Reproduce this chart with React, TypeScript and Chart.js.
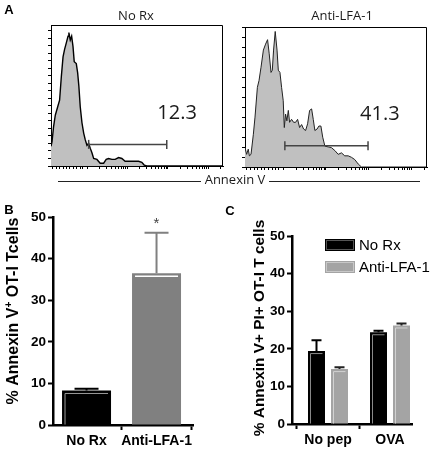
import React, { useEffect, useRef } from "react";
import { Chart, registerables } from "chart.js";
Chart.register(...registerables);

// ---------------- data ----------------
// Panel A: flow histograms (x = fraction of Annexin V axis, y = counts)
const histTitles = ["No Rx", "Anti-LFA-1"];
const histAxisTitle = "Annexin V";
const noRxHistX = [0, 0.6, 1.5, 2.5, 3.9, 5.0, 6.0, 7.0, 7.9, 8.9, 9.9, 10.4, 11.2, 12.0, 12.8, 13.5, 14.7, 15.5, 16.2, 17.0, 18.0, 19.0, 19.9, 20.9, 21.9, 22.8, 23.8, 24.8, 26.7, 28.6, 30.6, 32.1, 33.5, 35.4, 37.3, 39.3, 41.2, 43.1, 45.1, 48.0, 50.9, 52.8, 54.2, 55.7, 100];
const noRxHistY = [21, 26, 42, 54, 63, 70, 95, 116, 124, 131, 138, 142, 134, 138, 127, 111, 109, 99, 85, 63, 46, 35, 28, 22, 24, 19, 14, 8, 7, 3, 3, 7, 8, 7, 7, 9, 8, 5, 5, 5, 5, 4, 1, 0, 0];
const antiHistX = [0, 0.9, 1.8, 2.4, 3.3, 4.6, 5.5, 6.8, 7.7, 8.8, 10.1, 11.3, 12.4, 13.3, 14.3, 15.0, 15.7, 16.6, 17.6, 18.3, 19.2, 20.1, 21.0, 21.6, 22.3, 23.0, 23.8, 24.5, 25.6, 26.7, 27.8, 28.9, 30.0, 31.1, 32.2, 33.3, 34.4, 35.5, 36.6, 37.5, 38.4, 39.6, 40.6, 41.7, 42.7, 43.9, 45.7, 47.5, 49.4, 51.2, 53.0, 54.8, 56.7, 58.5, 60.3, 62.2, 64.0, 100];
const antiHistY = [26, 17, 24, 15, 17, 44, 67, 107, 116, 134, 157, 165, 171, 152, 127, 130, 157, 182, 157, 130, 127, 107, 89, 53, 71, 62, 76, 60, 64, 60, 60, 64, 53, 57, 51, 49, 58, 76, 78, 64, 49, 51, 55, 55, 40, 28, 27, 26, 22, 17, 19, 15, 15, 13, 10, 4, 0, 0];
const noRxGate = [21.9, 67.3];
const antiGate = [21.9, 67.6];
const noRxGateLevel = 23;
const antiGateLevel = 28.4;
const gatePercents = ["12.3", "41.3"];
const histDecadeStarts = [21, 44.5, 68, 91.5];
const histLinearTicks = [1, 3, 5, 7, 9, 10.5, 13, 15, 17, 18.5];

// Panel B
const bCategories = ["No Rx", "Anti-LFA-1"];
const bMeans = [8.3, 36.5];
const bErrors = [0.4, 9.7];
const bColors = ["#000000", "#808080"];
const bSignificance = ["", "*"];
const bTicks = [0, 10, 20, 30, 40, 50];

// Panel C
const cCategories = ["No pep", "OVA"];
const cSeries = ["No Rx", "Anti-LFA-1"];
const cNoRx = [19.4, 24.4];
const cNoRxErr = [2.9, 0.4];
const cAnti = [14.6, 26.2];
const cAntiErr = [0.5, 0.5];
const cColors = ["#000000", "#a4a4a4"];
const cTicks = [0, 10, 20, 30, 40, 50];

// ---------------- helpers ----------------
const SANS = '"Liberation Sans", Arial, sans-serif';
const MYR = '"Open Sans", "Liberation Sans", sans-serif';

type TextItem = { text: string; x: number; y: number; font: string; color?: string; align?: CanvasTextAlign; rotate?: number };

function textPlugin(items: TextItem[], lines: number[][] = []) {
  return {
    id: "texts",
    afterDraw(chart: any) {
      const ctx = chart.ctx as CanvasRenderingContext2D;
      lines.forEach(([x1, y1, x2, y2, w]) => {
        ctx.save();
        ctx.strokeStyle = "#222";
        ctx.lineWidth = w || 1;
        ctx.beginPath();
        ctx.moveTo(x1, y1);
        ctx.lineTo(x2, y2);
        ctx.stroke();
        ctx.restore();
      });
      items.forEach((it) => {
        ctx.save();
        ctx.font = it.font;
        ctx.fillStyle = it.color || "#000";
        ctx.textAlign = it.align || "center";
        ctx.textBaseline = "middle";
        if (it.rotate) {
          ctx.translate(it.x, it.y);
          ctx.rotate(it.rotate);
          ctx.fillText(it.text, 0, 0);
        } else ctx.fillText(it.text, it.x, it.y);
        ctx.restore();
      });
    },
  };
}

const framePlugin = {
  id: "frame",
  afterDraw(chart: any) {
    const { left, top, right, bottom } = chart.chartArea;
    const ctx = chart.ctx as CanvasRenderingContext2D;
    ctx.save();
    ctx.strokeStyle = "#000";
    ctx.lineWidth = 1;
    ctx.beginPath();
    ctx.moveTo(Math.round(left) + 0.5, Math.round(top) + 0.5);
    ctx.lineTo(Math.round(right) - 0.5, Math.round(top) + 0.5);
    ctx.lineTo(Math.round(right) - 0.5, Math.round(bottom) + 0.5);
    ctx.stroke();
    ctx.restore();
  },
};

function histXTicks() {
  const out = [...histLinearTicks];
  histDecadeStarts.forEach((d) => {
    for (let k = 1; k <= 9; k++) {
      const v = d + 23.5 * Math.log10(k);
      if (v <= 100) out.push(v);
    }
  });
  return out.map((v) => ({ value: v }));
}

function histConfig(p: {
  xs: number[]; ys: number[]; yMax: number; yStep: number; gate: number[]; gateY: number;
  pct: string; pctAt: number[]; yW: number; padRight: number; padTop: number; xH: number;
  lineWidth: number; lineColor: string; texts: TextItem[]; lines?: number[][];
}): any {
  const yTicks: { value: number }[] = [];
  for (let v = 0; v <= p.yMax + 0.001; v += p.yStep) yTicks.push({ value: v });
  const pctPlugin = {
    id: "pct",
    afterDraw(chart: any) {
      const ctx = chart.ctx as CanvasRenderingContext2D;
      const x = chart.scales.x.getPixelForValue(p.pctAt[0]);
      const y = chart.scales.y.getPixelForValue(p.pctAt[1]);
      ctx.save();
      ctx.font = `20px ${MYR}`;
      ctx.fillStyle = "#1a1a1a";
      ctx.textAlign = "center";
      ctx.textBaseline = "middle";
      ctx.fillText(p.pct, x, y);
      ctx.restore();
    },
  };
  return {
    type: "line",
    data: {
      datasets: [
        {
          data: p.gate.map((x) => ({ x, y: p.gateY })),
          borderColor: "#444",
          borderWidth: 1.5,
          pointStyle: "line",
          rotation: 90,
          pointRadius: 4.5,
          pointBorderWidth: 1.5,
          pointBorderColor: "#444",
          fill: false,
        },
        {
          data: p.xs.map((x, i) => ({ x, y: p.ys[i] })),
          borderColor: p.lineColor,
          borderWidth: p.lineWidth,
          backgroundColor: "#c0c0c0",
          fill: "origin",
          pointRadius: 0,
          tension: 0,
        },
      ],
    },
    options: {
      responsive: false,
      animation: false,
      events: [],
      layout: { padding: { left: 0, top: p.padTop, right: p.padRight, bottom: 0 } },
      plugins: { legend: { display: false }, tooltip: { enabled: false } },
      scales: {
        x: {
          type: "linear",
          min: 0,
          max: 100,
          afterBuildTicks: (s: any) => { s.ticks = histXTicks(); },
          afterFit: (s: any) => { s.height = p.xH; },
          ticks: { display: false },
          grid: { display: true, drawOnChartArea: false, drawTicks: true, tickLength: 3, color: "#000", tickColor: "#000", lineWidth: 1 },
          border: { display: true, color: "#000", width: 1 },
        },
        y: {
          type: "linear",
          min: 0,
          max: p.yMax,
          afterBuildTicks: (s: any) => { s.ticks = yTicks; },
          afterFit: (s: any) => { s.width = p.yW; },
          ticks: { display: false },
          grid: { display: true, drawOnChartArea: false, drawTicks: true, tickLength: 3, color: "#000", tickColor: "#000", lineWidth: 1 },
          border: { display: true, color: "#000", width: 1 },
        },
      },
    },
    plugins: [framePlugin, pctPlugin, textPlugin(p.texts, p.lines || [])],
  };
}

// bar extras: inner highlight lines, error bars, significance marks
function barExtras(capW: number) {
  return {
    id: "barExtras",
    afterDatasetsDraw(chart: any) {
      const ctx = chart.ctx as CanvasRenderingContext2D;
      const yScale = chart.scales.y;
      chart.data.datasets.forEach((ds: any, di: number) => {
        const meta = chart.getDatasetMeta(di);
        meta.data.forEach((el: any, i: number) => {
          const left = el.x - el.width / 2;
          const right = el.x + el.width / 2;
          const top = el.y;
          const bottom = el.base;
          const il = Array.isArray(ds.innerLines) ? ds.innerLines[i] : ds.innerLines;
          if (il) {
            ctx.save();
            ctx.strokeStyle = il.color;
            ctx.lineWidth = il.width || 1;
            ctx.beginPath();
            if (il.sides.includes("l")) {
              ctx.moveTo(left + il.inset, bottom);
              ctx.lineTo(left + il.inset, top + il.inset);
            } else {
              ctx.moveTo(left + il.inset, top + il.inset);
            }
            ctx.lineTo(right - il.inset, top + il.inset);
            ctx.stroke();
            ctx.restore();
          }
          const err = ds.errors ? ds.errors[i] : 0;
          const v = ds.data[i].y;
          const ey = yScale.getPixelForValue(v + err);
          const col = Array.isArray(ds.errorColors) ? ds.errorColors[i] : ds.errorColors;
          ctx.save();
          ctx.strokeStyle = col;
          ctx.lineWidth = 2;
          ctx.beginPath();
          ctx.moveTo(el.x, top);
          ctx.lineTo(el.x, ey);
          ctx.moveTo(el.x - capW / 2, ey);
          ctx.lineTo(el.x + capW / 2, ey);
          ctx.stroke();
          ctx.restore();
          if (ds.significance && ds.significance[i]) {
            ctx.save();
            ctx.font = `15px ${SANS}`;
            ctx.fillStyle = "#444";
            ctx.textAlign = "center";
            ctx.textBaseline = "middle";
            ctx.fillText(ds.significance[i], el.x, ey - 9);
            ctx.restore();
          }
        });
      });
    },
  };
}

function axisCommon(fixed: (s: any) => void) {
  return {
    afterFit: fixed,
    grid: { display: true, drawOnChartArea: false, drawTicks: true, tickLength: 5, tickWidth: 2, tickColor: "#000", color: "#000" },
    border: { display: true, color: "#000", width: 2.5 },
  };
}

function richTitle(x: number, y: number, parts: { text: string; font: string; dy: number }[]) {
  return {
    id: "richTitle",
    afterDraw(chart: any) {
      const ctx = chart.ctx as CanvasRenderingContext2D;
      ctx.save();
      ctx.translate(x, y);
      ctx.rotate(-Math.PI / 2);
      ctx.fillStyle = "#000";
      ctx.textBaseline = "middle";
      ctx.textAlign = "left";
      let total = 0;
      parts.forEach((pt) => { ctx.font = pt.font; total += ctx.measureText(pt.text).width; });
      let cx = -total / 2;
      parts.forEach((pt) => {
        ctx.font = pt.font;
        ctx.fillText(pt.text, cx, pt.dy);
        cx += ctx.measureText(pt.text).width;
      });
      ctx.restore();
    },
  };
}

function configA1(): any {
  return histConfig({
    xs: noRxHistX, ys: noRxHistY, yMax: 150, yStep: 8, gate: noRxGate, gateY: noRxGateLevel,
    pct: gatePercents[0], pctAt: [73.3, 56.4], yW: 51, padRight: 210, padTop: 25, xH: 34,
    lineWidth: 1.4, lineColor: "#000",
    texts: [
      { text: "A", x: 9, y: 10, font: `bold 13px ${SANS}` },
      { text: histTitles[0], x: 136, y: 16, font: `13px ${MYR}`, color: "#1a1a1a" },
      { text: histAxisTitle, x: 235, y: 180, font: `13px ${MYR}`, color: "#1a1a1a" },
    ],
    lines: [[58, 181.5, 201, 181.5, 1], [269, 181.5, 420, 181.5, 1]],
  });
}

function configA2(): any {
  return histConfig({
    xs: antiHistX, ys: antiHistY, yMax: 188, yStep: 40 / 3, gate: antiGate, gateY: antiGateLevel,
    pct: gatePercents[1], pctAt: [74.1, 71.2], yW: 10, padRight: 6, padTop: 27, xH: 33,
    lineWidth: 1, lineColor: "#222",
    texts: [{ text: histTitles[1], x: 107, y: 16, font: `13px ${MYR}`, color: "#1a1a1a" }],
  });
}

function configB(): any {
  return {
    type: "bar",
    data: {
      datasets: [
        {
          data: bCategories.map((_, i) => ({ x: i, y: bMeans[i] })),
          backgroundColor: bColors,
          borderWidth: 0,
          barPercentage: 0.7,
          categoryPercentage: 1,
          errors: bErrors,
          errorColors: bColors,
          significance: bSignificance,
          innerLines: [
            { color: "#9a9a9a", sides: "lt", inset: 3, width: 1 },
            { color: "#ffffff", sides: "t", inset: 3, width: 1.5 },
          ],
        },
      ],
    },
    options: {
      responsive: false,
      animation: false,
      events: [],
      layout: { padding: { left: 0, top: 22, right: 23, bottom: 0 } },
      plugins: { legend: { display: false }, tooltip: { enabled: false } },
      scales: {
        x: {
          type: "linear",
          min: -0.479,
          max: 1.521,
          offset: false,
          afterBuildTicks: (s: any) => { s.ticks = bCategories.map((_, i) => ({ value: i })); },
          ticks: {
            callback: (v: any) => bCategories[v as number] ?? "",
            font: { family: SANS, size: 14, weight: "bold" },
            color: "#000",
            padding: 3,
            autoSkip: false,
            maxRotation: 0,
          },
          ...axisCommon((s: any) => { s.height = 35; }),
        },
        y: {
          type: "linear",
          min: 0,
          max: 50,
          afterBuildTicks: (s: any) => { s.ticks = bTicks.map((v) => ({ value: v })); },
          ticks: { font: { family: SANS, size: 13.5, weight: "bold" }, color: "#000", padding: 2 },
          ...axisCommon((s: any) => { s.width = 53; }),
        },
      },
    },
    plugins: [
      barExtras(24),
      richTitle(14, 116, [
        { text: "% Annexin V", font: `bold 16px ${SANS}`, dy: 0 },
        { text: "+", font: `bold 10px ${SANS}`, dy: -5 },
        { text: " OT-I Tcells", font: `bold 16px ${SANS}`, dy: 0 },
      ]),
      textPlugin([{ text: "B", x: 9, y: 15, font: `bold 13px ${SANS}` }]),
    ],
  };
}

function configC(): any {
  const legendPlugin = {
    id: "cLegend",
    afterDraw(chart: any) {
      const ctx = chart.ctx as CanvasRenderingContext2D;
      chart.data.datasets.forEach((ds: any, i: number) => {
        const bx = 109, by = 44 + i * 22, bw = 30, bh = 12;
        ctx.save();
        ctx.fillStyle = ds.backgroundColor;
        ctx.fillRect(bx, by, bw, bh);
        ctx.strokeStyle = i === 0 ? "#555" : "#c8c8c8";
        ctx.lineWidth = 1;
        ctx.strokeRect(bx + 1.5, by + 1.5, bw - 3, bh - 3);
        ctx.font = `15px ${SANS}`;
        ctx.fillStyle = "#000";
        ctx.textAlign = "left";
        ctx.textBaseline = "middle";
        ctx.fillText(ds.label, 143, by + bh / 2 + 0.5);
        ctx.restore();
      });
    },
  };
  return {
    type: "bar",
    data: {
      datasets: [
        {
          label: cSeries[0],
          data: cCategories.map((_, i) => ({ x: i, y: cNoRx[i] })),
          backgroundColor: cColors[0],
          borderWidth: 0,
          errors: cNoRxErr,
          errorColors: "#000",
          innerLines: { color: "#8a8a8a", sides: "lt", inset: 2.5, width: 1 },
        },
        {
          label: cSeries[1],
          data: cCategories.map((_, i) => ({ x: i, y: cAnti[i] })),
          backgroundColor: cColors[1],
          borderWidth: 0,
          errors: cAntiErr,
          errorColors: "#222",
          innerLines: { color: "#d2d2d2", sides: "lt", inset: 2.5, width: 1 },
        },
      ],
    },
    options: {
      responsive: false,
      animation: false,
      events: [],
      barPercentage: 0.739,
      categoryPercentage: 0.742,
      layout: { padding: { left: 0, top: 41, right: 21, bottom: 0 } },
      plugins: { legend: { display: false }, tooltip: { enabled: false } },
      scales: {
        x: {
          type: "linear",
          min: -0.5806,
          max: 1.3548,
          offset: false,
          afterBuildTicks: (s: any) => { s.ticks = cCategories.map((_, i) => ({ value: i })); },
          ticks: {
            callback: (v: any) => cCategories[v as number] ?? "",
            font: { family: SANS, size: 14, weight: "bold" },
            color: "#000",
            padding: 3,
            autoSkip: false,
            maxRotation: 0,
          },
          ...axisCommon((s: any) => { s.height = 36; }),
        },
        y: {
          type: "linear",
          min: 0,
          max: 50,
          afterBuildTicks: (s: any) => { s.ticks = cTicks.map((v) => ({ value: v })); },
          ticks: { font: { family: SANS, size: 13.5, weight: "bold" }, color: "#000", padding: 2 },
          ...axisCommon((s: any) => { s.width = 76; }),
        },
      },
    },
    plugins: [
      barExtras(10),
      legendPlugin,
      textPlugin([
        { text: "C", x: 14, y: 16, font: `bold 13px ${SANS}` },
        { text: "% Annexin V+ PI+ OT-I T cells", x: 44, y: 133, font: `bold 15.4px ${SANS}`, rotate: -Math.PI / 2 },
      ]),
    ],
  };
}

function Panel({ left, top, width, height, build }: { left: number; top: number; width: number; height: number; build: () => any }) {
  const ref = useRef<HTMLCanvasElement | null>(null);
  useEffect(() => {
    if (!ref.current) return;
    const chart = new Chart(ref.current, build());
    return () => chart.destroy();
  }, [build]);
  return (
    <canvas
      ref={ref}
      width={width}
      height={height}
      style={{ position: "absolute", left, top, width, height, display: "block" }}
    />
  );
}

export default function App() {
  return (
    <div style={{ position: "absolute", left: 0, top: 0, width: 433, height: 460, background: "#fff", overflow: "hidden" }}>
      <Panel left={0} top={0} width={433} height={200} build={configA1} />
      <Panel left={235} top={0} width={198} height={200} build={configA2} />
      <Panel left={0} top={195} width={216} height={265} build={configB} />
      <Panel left={216} top={195} width={217} height={265} build={configC} />
    </div>
  );
}
